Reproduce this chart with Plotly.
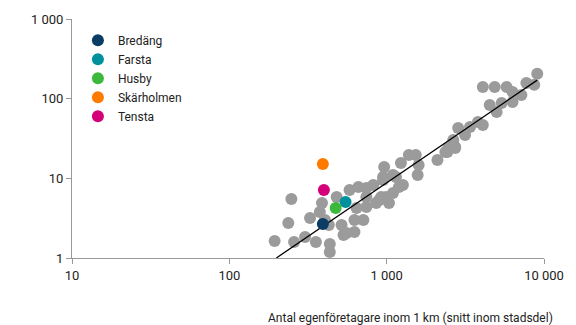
import plotly.graph_objects as go

# övriga stadsdelar (grå)
other_x = [194, 237, 248, 258, 303, 326, 355, 435, 435, 388, 376, 405, 429, 517, 532, 624, 711, 624, 556, 481,
           581, 661, 743, 822, 949, 1097, 1197, 991, 858, 743, 643, 743, 896,
           964, 1232, 1383, 1531, 1597, 1574, 2102, 2428, 2727, 1146, 1268, 949, 1035, 923, 1097,
           4085, 4861, 5781, 6310, 7727, 9060, 8670, 7180, 6310, 5383, 4520, 5000, 3802, 4085,
           3388, 3150, 2847, 2650, 2464, 2727, 2362]
other_y = [1.63, 2.75, 5.5, 1.59, 1.83, 3.18, 1.59, 1.5, 1.19, 4.9, 3.78, 3.0, 2.59, 2.59, 1.94, 3.0, 3.0, 2.12, 2.06, 5.83,
           7.13, 7.78, 7.55, 8.24, 10.4, 11.0, 7.78, 5.83, 4.9, 4.36, 4.24, 5.83, 5.34,
           13.9, 15.6, 19.6, 19.6, 14.7, 11.0, 17.0, 21.4, 24.7, 10.4, 8.24, 9.5, 4.9, 5.83, 6.54,
           140, 140, 140, 121, 157, 205, 150, 111, 90.6, 88, 83, 68, 50.8, 46.7,
           44, 34.9, 42.8, 30.2, 24.0, 24.0, 21.4]

# markerade stadsdelar
names = ["Bredäng", "Farsta", "Husby", "Skärholmen", "Tensta"]
named_x = [393, 548, 474, 393, 399]
named_y = [2.67, 5.04, 4.24, 15.1, 7.13]
colors = ["#0a3d66", "#00919c", "#3cb83c", "#ff7b00", "#d4007a"]

# trendlinje
trend_x = [199, 9060]
trend_y = [1, 171]

x_ticks = [10, 100, 1000, 10000]
x_labels = ["10", "100", "1 000", "10 000"]
y_ticks = [1, 10, 100, 1000]
y_labels = ["1", "10", "100", "1 000"]

fig = go.Figure()
fig.add_trace(go.Scatter(x=other_x, y=other_y, mode="markers", showlegend=False,
                         marker=dict(size=12, color="#9b9b9b")))
fig.add_trace(go.Scatter(x=trend_x, y=trend_y, mode="lines", showlegend=False,
                         line=dict(color="black", width=1.3)))
for n, x, y, c in zip(names, named_x, named_y, colors):
    fig.add_trace(go.Scatter(x=[x], y=[y], mode="markers", name=n,
                             marker=dict(size=12, color=c)))

axis_style = dict(showgrid=False, zeroline=False, showline=True, linecolor="#999999", linewidth=1,
                  ticks="outside", tickcolor="#999999", ticklen=5,
                  tickfont=dict(size=13, color="#222222"))
fig.update_xaxes(type="log", range=[1, 4], tickvals=x_ticks, ticktext=x_labels, **axis_style)
fig.update_yaxes(type="log", range=[0, 3], tickvals=y_ticks, ticktext=y_labels, **axis_style)

fig.add_annotation(text="Antal egenföretagare inom 1 km (snitt inom stadsdel)", xref="paper", yref="paper",
                   x=1.023, y=-0.25, xanchor="right", yanchor="middle", showarrow=False,
                   font=dict(size=12, color="#222222"))

fig.update_layout(
    width=576, height=325,
    margin=dict(l=72, r=26, t=19, b=67),
    plot_bgcolor="white", paper_bgcolor="white",
    font=dict(family="Roboto", color="#222222"),
    legend=dict(x=0.0125, y=0.972, xanchor="left", yanchor="top", font=dict(size=12),
                bgcolor="rgba(0,0,0,0)", tracegroupgap=0, itemsizing="constant"),
)

# ta bort sidans standardmarginal så att figuren börjar i hörnet
fig.write_html("out.html", config={"displayModeBar": False},
               post_script="document.body.style.margin='0';")
